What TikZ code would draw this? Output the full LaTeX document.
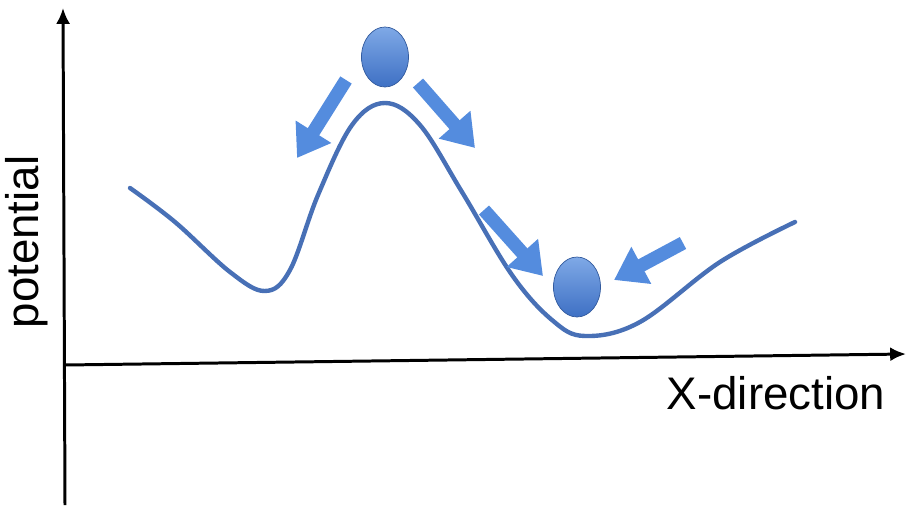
\documentclass[tikz,border=0pt]{standalone}
\usepackage{fontspec}
\setmainfont{Liberation Sans}
\usetikzlibrary{arrows.meta,shapes.geometric}

\definecolor{curveblue}{RGB}{72,112,182}
\definecolor{ballblue}{RGB}{84,140,222}
\definecolor{balldark}{RGB}{62,112,196}

\tikzset{
  axis/.style={line width=1.7pt,-{Latex[length=9pt,width=8pt]}},
  ball/.style={ellipse,minimum width=0.94cm,minimum height=1.2cm,inner sep=0pt,
    top color=ballblue!75!white,bottom color=balldark,draw=balldark!80!black,line width=0.4pt},
  push/.style={line width=0.27cm,ballblue,-{Triangle[width=0.8cm,length=0.62cm]}},
  label/.style={font=\fontsize{26}{30}\selectfont,inner sep=0pt}
}

\begin{document}
\begin{tikzpicture}[x=0.02cm,y=-0.02cm]
  \useasboundingbox (0,0) rectangle (906,507);

  % axes
  \coordinate (yfoot) at (65,505);
  \coordinate (ytop) at (63,8);
  \coordinate (xleft) at (65,365);
  \coordinate (xright) at (906,354);
  \draw[axis] (yfoot) -- (ytop);
  \draw[axis] (xleft) -- (xright);
  \node[label,rotate=90] (pot) at (27,242) {potential};
  \node[label] (xdir) at (776,393) {X-direction};

  % potential curve
  \draw[curveblue,line width=2.5pt,line cap=round] plot[smooth,tension=0.6] coordinates {
    (130,188) (175,222) (230,272) (265,291) (290,270) (318,195)
    (352,125) (385,103) (420,125) (462,192) (512,275) (552,320)
    (585,336) (640,322) (720,262) (795,222)};

  % balls
  \node[ball] (top) at (385,57) {};
  \node[ball] (bottom) at (577,287) {};

  % arrows
  \coordinate (a1) at (346,80);  \coordinate (a1t) at (297,158);
  \coordinate (a2) at (418,83);  \coordinate (a2t) at (475,148);
  \coordinate (a3) at (484,210); \coordinate (a3t) at (543,276);
  \coordinate (a4) at (683,243); \coordinate (a4t) at (614,280);
  \draw[push] (a1) -- (a1t);
  \draw[push] (a2) -- (a2t);
  \draw[push] (a3) -- (a3t);
  \draw[push] (a4) -- (a4t);
\end{tikzpicture}
\end{document}
